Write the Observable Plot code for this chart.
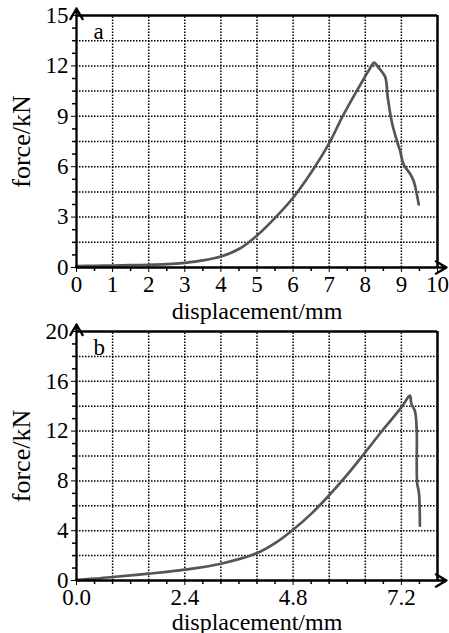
<!DOCTYPE html>
<html>
<head>
<meta charset="utf-8">
<script src="https://cdn.jsdelivr.net/npm/d3@7"></script>
<script src="https://cdn.jsdelivr.net/npm/@observablehq/plot@0.6"></script>
<style>
  html, body { margin: 0; padding: 0; background: #fff; }
  #chart svg { display: block; }
</style>
</head>
<body>
<div id="chart"></div>
<script>
// ---- Panel a data ----
const dispA = [0, 0.5, 1, 1.5, 2, 2.5, 3, 3.5, 4, 4.5, 5, 5.5, 6, 6.5, 7, 7.36, 7.76, 8.17, 8.24, 8.37, 8.55, 8.62, 8.74, 8.93, 8.97, 9.06, 9.25, 9.34, 9.48];
const forceA = [0.08, 0.1, 0.12, 0.14, 0.16, 0.2, 0.28, 0.42, 0.65, 1.1, 1.9, 2.95, 4.15, 5.65, 7.4, 8.95, 10.5, 12, 12.2, 11.9, 11.35, 10.16, 8.6, 7.16, 6.9, 6.14, 5.55, 5.15, 3.75];
const xDomainA = [0, 10];
const yDomainA = [0, 15];
const xTicksA = [0, 1, 2, 3, 4, 5, 6, 7, 8, 9, 10];
const yTicksA = [0, 3, 6, 9, 12, 15];
const xGridA = [1, 2, 3, 4, 5, 6, 7, 8, 9];
const yGridA = [1.5, 3, 4.5, 6, 7.5, 9, 10.5, 12, 13.5];
const xMinorA = [0.5, 1.5, 2.5, 3.5, 4.5, 5.5, 6.5, 7.5, 8.5, 9.5];
const yMinorA = [0.75, 1.5, 2.25, 3.75, 4.5, 5.25, 6.75, 7.5, 8.25, 9.75, 10.5, 11.25, 12.75, 13.5, 14.25];

// ---- Panel b data ----
const dispB = [0, 0.4, 0.8, 1.6, 2.4, 3.2, 4.0, 4.4, 4.8, 5.2, 5.6, 6.0, 6.4, 6.8, 7.2, 7.39, 7.42, 7.5, 7.54, 7.54, 7.55, 7.59, 7.61];
const forceB = [0.05, 0.15, 0.28, 0.55, 0.87, 1.35, 2.2, 3.0, 4.08, 5.35, 6.85, 8.5, 10.3, 12.15, 13.9, 14.85, 14.2, 13.6, 12.0, 9.4, 7.8, 7.0, 4.4];
const xDomainB = [0, 8];
const yDomainB = [0, 20];
const xTicksB = [0, 2.4, 4.8, 7.2];
const yTicksB = [0, 4, 8, 12, 16, 20];
const xGridB = [0.8, 1.6, 2.4, 3.2, 4.0, 4.8, 5.6, 6.4, 7.2];
const yGridB = [2, 4, 6, 8, 10, 12, 14, 16, 18];
const xMinorB = [0.4, 0.8, 1.2, 1.6, 2.0, 2.8, 3.2, 3.6, 4.0, 4.4, 5.2, 5.6, 6.0, 6.4, 6.8, 7.6];
const yMinorB = [1, 2, 3, 5, 6, 7, 9, 10, 11, 13, 14, 15, 17, 18, 19];

const xLabel = "displacement/mm";
const yLabel = "force/kN";
const panelNames = ["a", "b"];

const font = "'Liberation Serif', 'Times New Roman', serif";

function panel(opts) {
  const {xs, ys, xDomain, yDomain, xTicks, yTicks, xGrid, yGrid, xMinor, yMinor, name,
         height, marginTop, marginBottom, xFormat, xLabelDy} = opts;
  const data = xs.map((x, i) => ({x, y: ys[i]}));
  const x0 = xDomain[0], x1 = xDomain[1], y0 = yDomain[0], y1 = yDomain[1];
  const dotted = {stroke: "#000", strokeWidth: 1.5, strokeDasharray: "1.5,1.5"};
  return Plot.plot({
    width: 449,
    height,
    marginLeft: 76,
    marginRight: 12,
    marginTop,
    marginBottom,
    style: {fontFamily: font, fontSize: "23px", color: "#000", background: "#fff", overflow: "visible"},
    x: {domain: xDomain, ticks: xTicks, tickSize: 5, tickPadding: 3, tickFormat: xFormat, label: null},
    y: {domain: yDomain, ticks: yTicks, tickSize: 5, tickPadding: 3, label: null},
    marks: [
      Plot.ruleX(xGrid, {x: d => d, y1: y0, y2: y1, ...dotted}),
      Plot.ruleY(yGrid, {y: d => d, x1: x0, x2: x1, ...dotted}),
      // minor ticks
      Plot.ruleX(xMinor, {x: d => d, y1: y0, y2: y0, insetBottom: -4, stroke: "#000", strokeWidth: 1.5}),
      Plot.ruleY(yMinor, {y: d => d, x1: x0, x2: x0, insetLeft: -4, stroke: "#000", strokeWidth: 1.5}),
      // frame top & right
      Plot.ruleY([y1], {x1: x0, x2: x1, stroke: "#000", strokeWidth: 2.5}),
      Plot.ruleX([x1], {y1: y0, y2: y1, stroke: "#000", strokeWidth: 2.5}),
      // curve
      Plot.line(data, {x: "x", y: "y", curve: "catmull-rom", stroke: "#555", strokeWidth: 2.7, strokeLinejoin: "round"}),
      // axes with arrows
      Plot.arrow([0], {x1: x0, y1: y0, x2: x0, y2: y1, insetEnd: -7, headLength: 8, stroke: "#000", strokeWidth: 2.3}),
      Plot.arrow([0], {x1: x0, y1: y0, x2: x1, y2: y0, insetEnd: -9, headLength: 8, stroke: "#000", strokeWidth: 2.3}),
      Plot.text([name], {text: d => d, frameAnchor: "top-left", dx: 17, dy: 16, lineAnchor: "middle", fontSize: 23}),
      Plot.text([xLabel], {text: d => d, frameAnchor: "bottom", dy: xLabelDy, lineAnchor: "bottom", fontSize: 24}),
      Plot.text([yLabel], {text: d => d, frameAnchor: "left", dx: -55, rotate: -90, textAnchor: "middle", lineAnchor: "middle", fontSize: 26})
    ]
  });
}

const chart = document.getElementById("chart");
chart.appendChild(panel({
  xs: dispA, ys: forceA, xDomain: xDomainA, yDomain: yDomainA, xTicks: xTicksA, yTicks: yTicksA,
  xGrid: xGridA, yGrid: yGridA, xMinor: xMinorA, yMinor: yMinorA, name: panelNames[0],
  height: 322, marginTop: 15, marginBottom: 55, xFormat: d3.format("d"), xLabelDy: 51
}));
chart.appendChild(panel({
  xs: dispB, ys: forceB, xDomain: xDomainB, yDomain: yDomainB, xTicks: xTicksB, yTicks: yTicksB,
  xGrid: xGridB, yGrid: yGridB, xMinor: xMinorB, yMinor: yMinorB, name: panelNames[1],
  height: 311, marginTop: 9, marginBottom: 53, xFormat: d3.format(".1f"), xLabelDy: 49
}));
</script>
</body>
</html>
